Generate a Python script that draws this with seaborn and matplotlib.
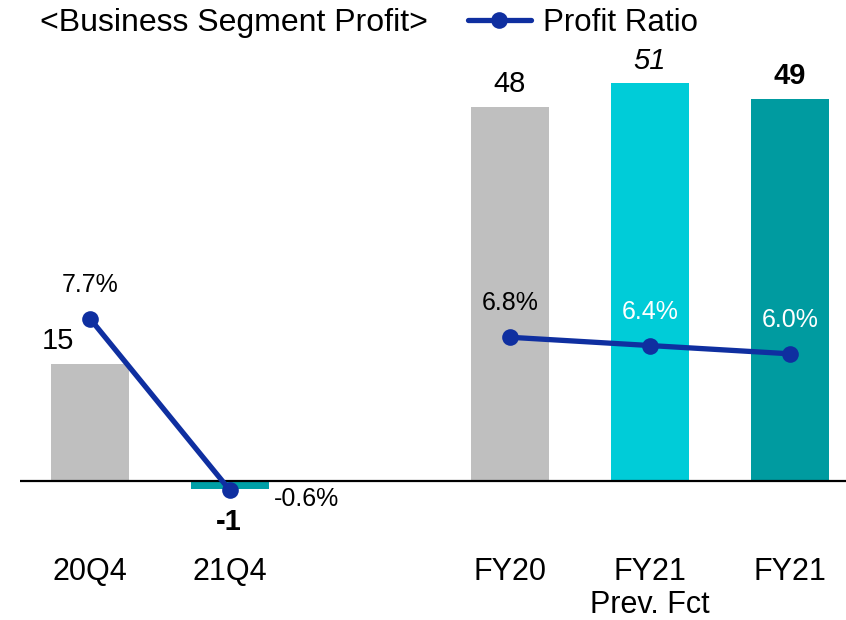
import matplotlib
matplotlib.use("Agg")
import matplotlib.pyplot as plt
import pandas as pd
import seaborn as sns

# Data
keys = ["20Q4", "21Q4", "FY20", "FY21 Fct", "FY21"]
tick_labels = ["20Q4", "21Q4", "FY20", "FY21\nPrev. Fct", "FY21"]
positions = [0, 1, 3, 4, 5]
profit = [15, -1, 48, 51, 49]
ratio = [7.7, -0.6, 6.8, 6.4, 6.0]
segment = ["quarter", "quarter", "year", "year", "year"]
bar_colors = ["#BFBFBF", "#00A0A6", "#BFBFBF", "#00CCD8", "#009BA0"]

df = pd.DataFrame({"key": keys, "pos": positions, "profit": profit,
                   "ratio": ratio, "segment": segment})

sns.set_theme(style="white")
plt.rcParams["font.family"] = ["Liberation Sans", "DejaVu Sans"]
plt.rcParams["text.color"] = "black"

fig = plt.figure(figsize=(8.46, 6.2), dpi=100)
ax = fig.add_axes([20 / 846, 75 / 620, 1 - 20 / 846, 545 / 620])

sns.barplot(data=df, x="pos", y="profit", hue="key", palette=dict(zip(keys, bar_colors)),
            native_scale=True, dodge=False, width=0.56, errorbar=None, linewidth=0,
            saturation=1, legend=False, ax=ax)
ax.axhline(0, color="black", lw=1.6, zorder=3)

ax2 = ax.twinx()
sns.lineplot(data=df, x="pos", y="ratio", units="segment", estimator=None,
             color="#0F2FA0", lw=3.8, marker="o", markersize=12,
             markeredgewidth=0, ax=ax2)

ax.set_xlim(-0.5, 5.4)
ax.set_ylim(-8.2, 61.7)
ax2.set_ylim(-3.24, 23.1)

ax.set_xticks(positions)
ax.set_xticklabels(tick_labels, linespacing=1.1)
ax.tick_params(axis="x", length=0, pad=9, labelsize=22, colors="black")
ax.set_yticks([])
ax2.set_yticks([])
ax.set_xlabel("")
ax.set_ylabel("")
ax2.set_ylabel("")
for a in (ax, ax2):
    for s in a.spines.values():
        s.set_visible(False)

# bar value labels
styles = [dict(), dict(fontweight="bold"), dict(), dict(fontstyle="italic"), dict(fontweight="bold")]
for p, v, st in zip(positions, profit, styles):
    if v >= 0:
        dx, dy = (-23, 16.5) if p == 0 else (0, 16.5)
    else:
        dx, dy = (-1, -24)
    ax.annotate(str(v), (p, v), xytext=(dx, dy),
                textcoords="offset points", ha="center", va="center",
                fontsize=21, color="black", **st)

# ratio labels
ratio_colors = ["black", "black", "black", "white", "white"]
for p, r, c in zip(positions, ratio, ratio_colors):
    if r < 0:
        dx, dy = 55, -6.5
    else:
        dx, dy = 0, 24.5
    ax2.annotate(f"{r:.1f}%", (p, r), xytext=(dx, dy), textcoords="offset points",
                 ha="center", va="center", fontsize=18, color=c)

fig.text(40 / 846, 1 - 23 / 620, "<Business Segment Profit>", fontsize=23,
         ha="left", va="center", color="black")
handle = plt.Line2D([], [], color="#0F2FA0", lw=3.8, marker="o", markersize=12,
                    markeredgewidth=0)
fig.legend([handle], ["Profit Ratio"], loc="center left",
           bbox_to_anchor=(468 / 846, 1 - 23 / 620), frameon=False, fontsize=22.5,
           labelcolor="black", handlelength=2.0, handletextpad=0.4, borderpad=0,
           borderaxespad=0)

fig.savefig("out.png", dpi=100)
